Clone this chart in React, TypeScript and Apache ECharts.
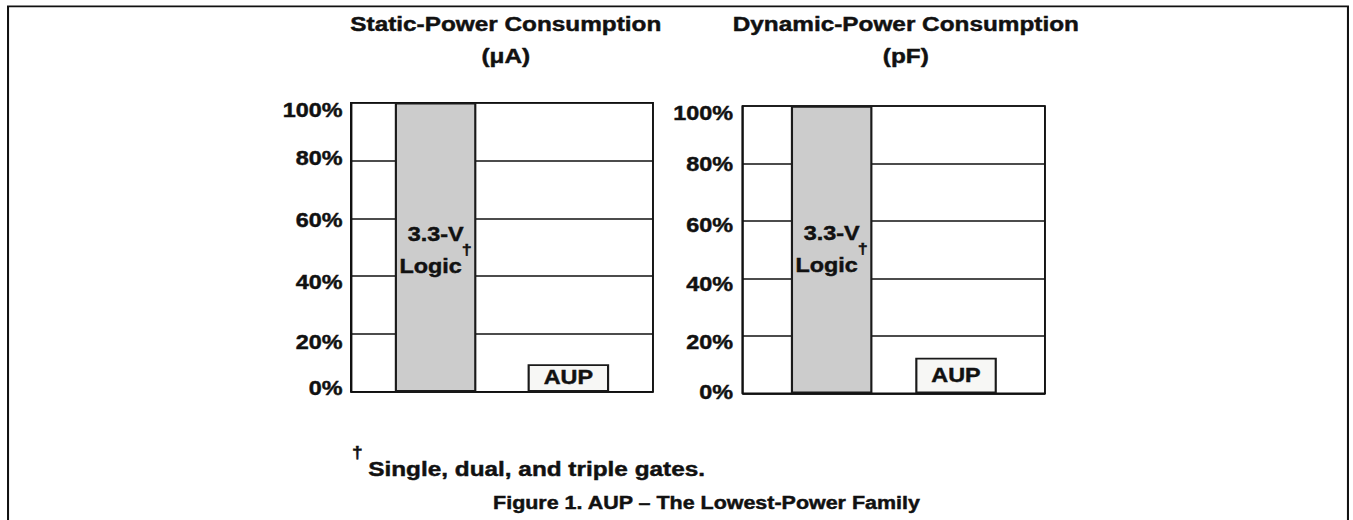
import React, { useEffect, useRef } from "react";
import * as echarts from "echarts";

// ---- data ----
const panelTitles = ["Static-Power Consumption\n(\u03bcA)", "Dynamic-Power Consumption\n(pF)"];
const families = ["3.3-V Logic", "AUP"];
const logicValues = [100, 100];
const aupValues = [9.5, 12.4];
const yTickValues = [0, 20, 40, 60, 80, 100];
const footnoteMark = "\u2020";
const footnoteText = "Single, dual, and triple gates.";
const captionText = "Figure 1. AUP \u2013 The Lowest-Power Family";

// ---- layout / style ----
const DESIGN_W = 1128;
const DESIGN_H = 520;
const SCALE_X = 1353 / DESIGN_W;
const FONT = '"Liberation Sans", Arial, Helvetica, sans-serif';
const INK = "#111111";
const LINE_W = 1.6;
const TEXT_BORDER = 0.45;

const PANELS = [
  {
    grid: { left: 292.6, right: 583.6, top: 102.7, bottom: 128.3 },
    titleX: 421.7,
    barGap: "62.8%",
    labelTop: 116,
    labelMargin: 7,
    tickShift: { 0: -2.7, 20: 8.5, 40: 7, 60: 2, 80: -1.5, 100: 7.5 } as Record<number, number>,
  },
  {
    grid: { left: 619.2, right: 256.8, top: 106, bottom: 126.7 },
    titleX: 755.2,
    barGap: "52.5%",
    labelTop: 112,
    labelMargin: 8,
    tickShift: { 0: -0.8, 20: 6.7, 40: 5.8, 60: 4.9, 80: 0.7, 100: 7.6 } as Record<number, number>,
  },
];

const tickFont = {
  fontFamily: FONT,
  fontWeight: "bold" as const,
  fontSize: 19.5,
  color: INK,
  textBorderColor: INK,
  textBorderWidth: TEXT_BORDER,
};

function buildOption() {
  const grids = PANELS.map((p) => ({
    ...p.grid,
    show: true,
    borderColor: INK,
    borderWidth: LINE_W,
    backgroundColor: "transparent",
    containLabel: false,
  }));

  const xAxes = PANELS.map((p, i) => ({
    type: "category" as const,
    gridIndex: i,
    data: [panelTitles[i]],
    axisLine: { show: true, lineStyle: { color: INK, width: LINE_W } },
    axisTick: { show: false },
    axisLabel: { show: false },
    splitLine: { show: false },
  }));

  const yAxes = PANELS.map((p, i) => {
    const rich: Record<string, any> = {};
    yTickValues.forEach((v) => {
      const d = p.tickShift[v] ?? 0;
      rich["t" + v] = {
        ...tickFont,
        padding: d >= 0 ? [2 * d, 0, 0, 0] : [0, 0, -2 * d, 0],
      };
    });
    return {
      type: "value" as const,
      gridIndex: i,
      min: yTickValues[0],
      max: yTickValues[yTickValues.length - 1],
      interval: yTickValues[1] - yTickValues[0],
      axisLine: { show: true, lineStyle: { color: INK, width: LINE_W } },
      axisTick: { show: false },
      splitLine: { show: true, lineStyle: { color: INK, width: LINE_W } },
      axisLabel: {
        ...tickFont,
        margin: p.labelMargin,
        formatter: (v: number) => `{t${v}|${v}%}`,
        rich,
      },
    };
  });

  const series: any[] = [];
  PANELS.forEach((p, i) => {
    const [l1, l2] = families[0].split(" ");
    series.push({
      type: "bar",
      name: families[0],
      xAxisIndex: i,
      yAxisIndex: i,
      data: [logicValues[i]],
      barWidth: 68,
      barGap: p.barGap,
      silent: true,
      itemStyle: { color: "#cccccc", borderColor: "#1a1a1a", borderWidth: 1.8 },
      label: {
        show: true,
        position: ["50%", p.labelTop],
        align: "center",
        verticalAlign: "top",
        formatter: () => `{a|${l1}}\n{a|${l2}}{d|${footnoteMark}}`,
        rich: {
          a: { ...tickFont, fontSize: 19.5, lineHeight: 32 },
          d: { ...tickFont, fontSize: 15, lineHeight: 10, padding: [0, 0, 34, 0] },
        },
      },
    });
    series.push({
      type: "bar",
      name: families[1],
      xAxisIndex: i,
      yAxisIndex: i,
      data: [aupValues[i]],
      barWidth: 68,
      barGap: p.barGap,
      silent: true,
      itemStyle: { color: "#f7f7f5", borderColor: "#1a1a1a", borderWidth: 1.8 },
      label: {
        show: true,
        position: "inside",
        formatter: "{a}",
        ...tickFont,
        fontSize: 19.5,
      },
    });
  });

  const textEl = (
    text: string,
    x: number,
    y: number,
    size: number,
    align: "left" | "center",
    vAlign: "top" | "middle",
    lineHeight?: number
  ) => ({
    type: "text",
    x,
    y,
    silent: true,
    style: {
      text,
      fill: INK,
      stroke: INK,
      lineWidth: TEXT_BORDER,
      fontFamily: FONT,
      fontWeight: "bold",
      fontSize: size,
      align,
      textAlign: align,
      verticalAlign: vAlign,
      textVerticalAlign: vAlign,
      ...(lineHeight ? { lineHeight } : {}),
    },
  });

  const graphic: any[] = [
    {
      type: "rect",
      silent: true,
      shape: { x: 6.7, y: 6.3, width: 1117.1, height: 700 },
      style: { fill: "none", stroke: INK, lineWidth: 1.7 },
    },
    ...PANELS.map((p, i) => textEl(panelTitles[i], p.titleX, 8, 20.3, "center", "top", 32)),
    textEl(footnoteMark, 298, 453, 16, "center", "middle"),
    textEl(footnoteText, 307, 469, 20.3, "left", "middle"),
    textEl(captionText, 589, 502.7, 17.9, "center", "middle"),
  ];

  return {
    animation: false,
    backgroundColor: "#ffffff",
    grid: grids,
    xAxis: xAxes,
    yAxis: yAxes,
    series,
    graphic,
  };
}

export default function App() {
  const ref = useRef<HTMLDivElement>(null);
  useEffect(() => {
    if (!ref.current) return;
    const chart = echarts.init(ref.current, undefined, { renderer: "svg" });
    chart.setOption(buildOption());
    return () => chart.dispose();
  }, []);
  return (
    <div
      ref={ref}
      style={{
        position: "absolute",
        left: 0,
        top: 0,
        width: DESIGN_W,
        height: DESIGN_H,
        transform: `scaleX(${SCALE_X})`,
        transformOrigin: "0 0",
        background: "#ffffff",
      }}
    />
  );
}
